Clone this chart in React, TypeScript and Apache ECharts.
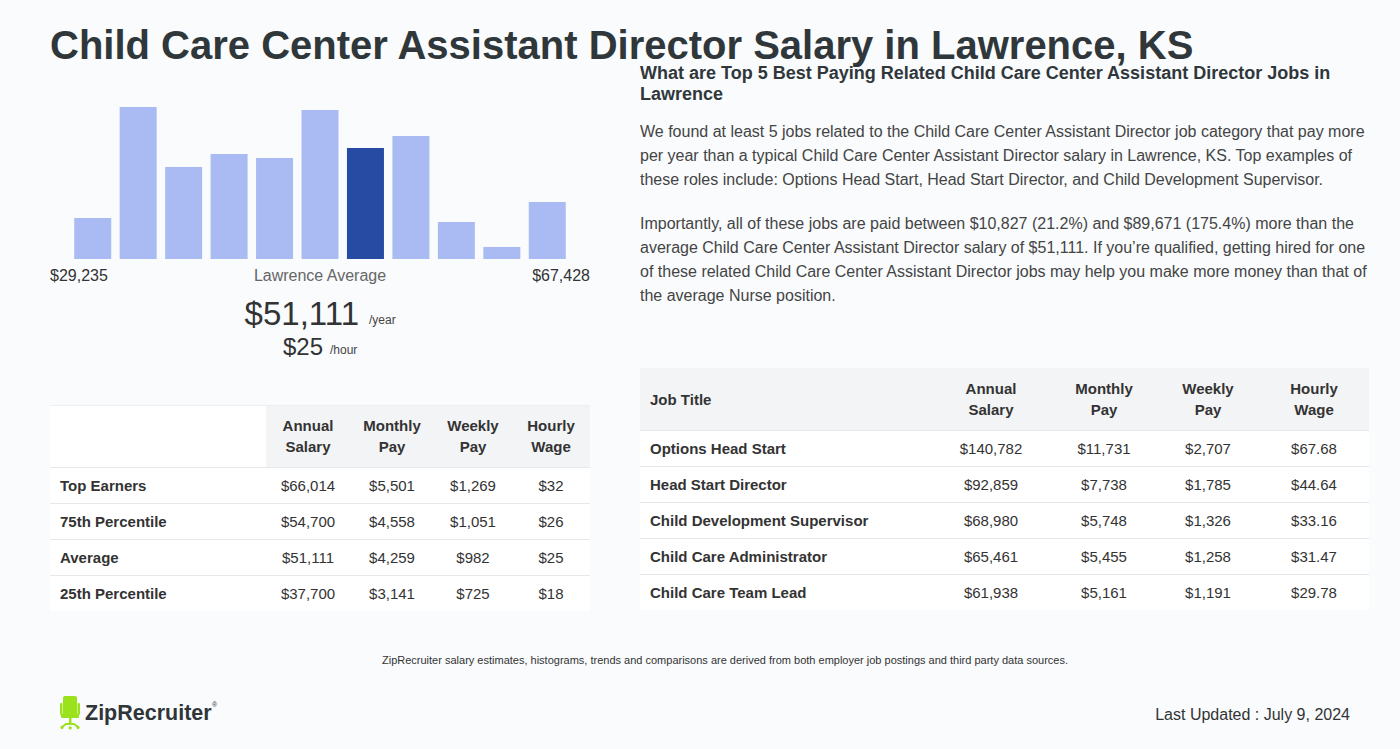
import React, { useEffect, useRef } from "react";
import * as echarts from "echarts";

const histBins = ["b1", "b2", "b3", "b4", "b5", "b6", "b7", "b8", "b9", "b10", "b11"];
const histValues = [41, 152, 92, 105, 101, 149, 111, 123, 37, 12, 57];
const highlightIndex = 6;

const titleText = "Child Care Center Assistant Director Salary in Lawrence, KS";
const minLabel = "$29,235";
const maxLabel = "$67,428";
const avgLabel = "Lawrence Average";
const avgYear = "$51,111";
const avgHour = "$25";

const summaryHeaders = ["Annual\nSalary", "Monthly\nPay", "Weekly\nPay", "Hourly\nWage"];
const summaryRows = ["Top Earners", "75th Percentile", "Average", "25th Percentile"];
const summaryAnnual = ["$66,014", "$54,700", "$51,111", "$37,700"];
const summaryMonthly = ["$5,501", "$4,558", "$4,259", "$3,141"];
const summaryWeekly = ["$1,269", "$1,051", "$982", "$725"];
const summaryHourly = ["$32", "$26", "$25", "$18"];

const jobHeaders = ["Annual\nSalary", "Monthly\nPay", "Weekly\nPay", "Hourly\nWage"];
const jobTitles = [
  "Options Head Start",
  "Head Start Director",
  "Child Development Supervisor",
  "Child Care Administrator",
  "Child Care Team Lead",
];
const jobAnnual = ["$140,782", "$92,859", "$68,980", "$65,461", "$61,938"];
const jobMonthly = ["$11,731", "$7,738", "$5,748", "$5,455", "$5,161"];
const jobWeekly = ["$2,707", "$1,785", "$1,326", "$1,258", "$1,191"];
const jobHourly = ["$67.68", "$44.64", "$33.16", "$31.47", "$29.78"];

const rightHeading =
  "What are Top 5 Best Paying Related Child Care Center Assistant Director Jobs in\nLawrence";
const para1 =
  "We found at least 5 jobs related to the Child Care Center Assistant Director job category that pay more\n" +
  "per year than a typical Child Care Center Assistant Director salary in Lawrence, KS. Top examples of\n" +
  "these roles include: Options Head Start, Head Start Director, and Child Development Supervisor.";
const para2 =
  "Importantly, all of these jobs are paid between $10,827 (21.2%) and $89,671 (175.4%) more than the\n" +
  "average Child Care Center Assistant Director salary of $51,111. If you\u2019re qualified, getting hired for one\n" +
  "of these related Child Care Center Assistant Director jobs may help you make more money than that of\n" +
  "the average Nurse position.";
const footNote =
  "ZipRecruiter salary estimates, histograms, trends and comparisons are derived from both employer job postings and third party data sources.";
const lastUpdated = "Last Updated : July 9, 2024";
const brand = "ZipRecruiter";

const FONT = "'Liberation Sans', Arial, Helvetica, sans-serif";

function txt(text: string, x: number, y: number, o: any = {}): any {
  const align = o.align || "left";
  const va = o.va || "middle";
  return {
    type: "text",
    x,
    y,
    silent: true,
    style: {
      text,
      fontFamily: FONT,
      fontSize: o.size || 15,
      fontWeight: o.weight || "normal",
      fill: o.color || "#333333",
      align,
      verticalAlign: va,
      textAlign: align,
      textVerticalAlign: va,
      lineHeight: o.lh,
    },
  };
}

function rect(x: number, y: number, w: number, h: number, fill: string, r: any = 0): any {
  return { type: "rect", silent: true, shape: { x, y, width: w, height: h, r }, style: { fill } };
}

function hline(x1: number, x2: number, y: number, color = "#e6e8eb"): any {
  return {
    type: "line",
    silent: true,
    shape: { x1, y1: y, x2, y2: y },
    style: { stroke: color, lineWidth: 1 },
  };
}

function buildGraphics(): any[] {
  const g: any[] = [];
  // Title
  g.push(txt(titleText, 50, 45, { size: 40, weight: "bold", color: "#30373b", lh: 34 }));

  // Histogram labels
  g.push(txt(minLabel, 50, 275, { size: 16, color: "#333" }));
  g.push(txt(avgLabel, 320, 275, { size: 16, color: "#666", align: "center" }));
  g.push(txt(maxLabel, 590, 275, { size: 16, color: "#333", align: "right" }));
  g.push(txt(avgYear, 359, 313, { size: 33, color: "#333", align: "right" }));
  g.push(txt("/year", 369, 320, { size: 12, color: "#444" }));
  g.push(txt(avgHour, 323, 346, { size: 24, color: "#333", align: "right" }));
  g.push(txt("/hour", 330, 350, { size: 12, color: "#444" }));

  // Left summary table
  const lx = 50, lw = 540, lTop = 405, lHead = 62, rowH = 36;
  const lCols = [308, 392, 473, 551];
  g.push(rect(lx, lTop, lw, lHead + rowH * summaryRows.length, "#ffffff"));
  g.push(rect(266, lTop, lx + lw - 266, lHead, "#f3f4f6"));
  g.push(hline(lx, lx + lw, lTop + 0.5, "#eceef0"));
  summaryHeaders.forEach((h, i) =>
    g.push(txt(h, lCols[i], lTop + lHead / 2, { size: 15, weight: "bold", color: "#333", align: "center", lh: 21 }))
  );
  const sCols = [summaryAnnual, summaryMonthly, summaryWeekly, summaryHourly];
  summaryRows.forEach((r, i) => {
    const y0 = lTop + lHead + i * rowH;
    g.push(hline(lx, lx + lw, y0 + 0.5));
    g.push(txt(r, 60, y0 + rowH / 2, { size: 15, weight: "bold", color: "#333" }));
    sCols.forEach((col, j) =>
      g.push(txt(col[i], lCols[j], y0 + rowH / 2, { size: 15, color: "#333", align: "center" }))
    );
  });

  // Right heading and paragraphs
  g.push(txt(rightHeading, 640, 83.5, { size: 18, weight: "bold", color: "#30373b", lh: 21 }));
  g.push(txt(para1, 640, 155, { size: 16, color: "#444", lh: 24 }));
  g.push(txt(para2, 640, 259, { size: 16, color: "#444", lh: 24 }));

  // Right jobs table
  const rx = 640, rw = 729, rTop = 368;
  const rCols = [991, 1104, 1208, 1314];
  g.push(rect(rx, rTop, rw, lHead + rowH * jobTitles.length, "#ffffff"));
  g.push(rect(rx, rTop, rw, lHead, "#f3f4f6"));
  g.push(txt("Job Title", 650, rTop + lHead / 2, { size: 15, weight: "bold", color: "#333" }));
  jobHeaders.forEach((h, i) =>
    g.push(txt(h, rCols[i], rTop + lHead / 2, { size: 15, weight: "bold", color: "#333", align: "center", lh: 21 }))
  );
  const jCols = [jobAnnual, jobMonthly, jobWeekly, jobHourly];
  jobTitles.forEach((r, i) => {
    const y0 = rTop + lHead + i * rowH;
    if (i > 0) g.push(hline(rx, rx + rw, y0 + 0.5));
    g.push(txt(r, 650, y0 + rowH / 2, { size: 15, weight: "bold", color: "#333" }));
    jCols.forEach((col, j) =>
      g.push(txt(col[i], rCols[j], y0 + rowH / 2, { size: 15, color: "#333", align: "center" }))
    );
  });
  g.push(hline(rx, rx + rw, rTop + lHead + 0.5));

  // Footnote
  g.push(txt(footNote, 725, 660, { size: 11, color: "#333", align: "center" }));
  g.push(txt(lastUpdated, 1350, 714, { size: 16, color: "#333", align: "right" }));

  // Logo chair
  const green = "#9be21c";
  g.push(rect(63, 696, 14, 19, green, [2, 2, 0, 0]));
  g.push(rect(60, 703, 2.5, 12, green, 1));
  g.push(rect(77.5, 703, 2.5, 12, green, 1));
  g.push(rect(61, 714, 18, 4, green, 1));
  g.push(rect(69, 718, 2.5, 6, green));
  g.push({
    type: "polyline",
    silent: true,
    shape: { points: [[62, 727], [66, 724], [74, 724], [78, 727]] },
    style: { stroke: green, lineWidth: 2, fill: "none" },
  });
  g.push({ type: "circle", silent: true, shape: { cx: 62, cy: 727.5, r: 1.6 }, style: { fill: green } });
  g.push({ type: "circle", silent: true, shape: { cx: 70.2, cy: 728, r: 1.6 }, style: { fill: green } });
  g.push({ type: "circle", silent: true, shape: { cx: 78, cy: 727.5, r: 1.6 }, style: { fill: green } });
  g.push(txt(brand, 85, 713, { size: 21.5, weight: "bold", color: "#2f3538" }));
  g.push(txt("\u00ae", 212, 704, { size: 7, color: "#2f3538" }));
  return g;
}

export default function App() {
  const ref = useRef<HTMLDivElement>(null);
  useEffect(() => {
    if (!ref.current) return;
    const chart = echarts.init(ref.current, undefined, { renderer: "svg" });
    chart.setOption({
      animation: false,
      backgroundColor: "#f9fbfd",
      grid: { left: 70, top: 99, width: 500, height: 160, containLabel: false },
      xAxis: {
        type: "category",
        data: histBins,
        show: false,
      },
      yAxis: { type: "value", min: 0, max: 160, show: false },
      series: [
        {
          type: "bar",
          barWidth: 37,
          silent: true,
          data: histValues.map((v, i) => ({
            value: v,
            itemStyle: { color: i === highlightIndex ? "#274aa3" : "#a9bbf2" },
          })),
        },
      ],
      graphic: buildGraphics(),
    });
    return () => chart.dispose();
  }, []);
  return (
    <div
      ref={ref}
      style={{ position: "fixed", left: 0, top: 0, width: 1400, height: 749 }}
    />
  );
}
